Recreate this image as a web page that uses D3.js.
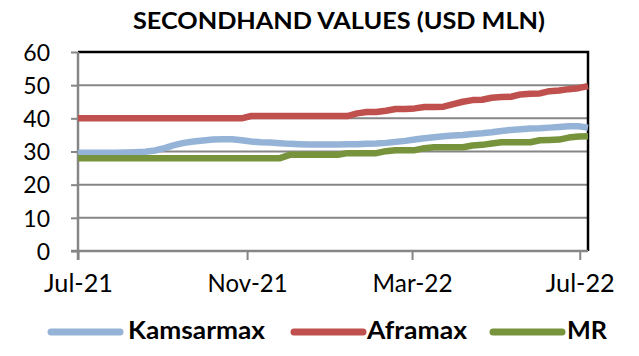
<!DOCTYPE html>
<html><head><meta charset="utf-8">
<script src="https://cdn.jsdelivr.net/npm/d3@7"></script>
<style>
html,body{margin:0;padding:0;background:#fff;}
svg{display:block;}
text{font-family:Lato,"Open Sans",sans-serif;fill:#000;}
</style></head>
<body>
<script>
// ---- data ----
const startDate = "2021-07-01";          // first weekly observation
const weeksCount = 54;
const kamsarmax = [29.6,29.6,29.6,29.6,29.6,29.7,29.8,29.9,30.3,31.0,31.9,32.6,33.0,33.3,33.6,33.7,33.7,33.4,33.0,32.8,32.7,32.5,32.3,32.2,32.1,32.1,32.1,32.1,32.2,32.2,32.3,32.4,32.6,32.9,33.2,33.6,34.0,34.3,34.6,34.8,35.0,35.3,35.5,35.8,36.2,36.5,36.7,36.9,37.0,37.2,37.4,37.6,37.6,37.2];
const aframax = [40,40,40,40,40,40,40,40,40,40,40,40,40,40,40,40,40,40,40.7,40.7,40.7,40.7,40.7,40.7,40.7,40.7,40.7,40.7,40.7,41.5,41.9,41.9,42.3,42.8,42.8,43.0,43.4,43.4,43.5,44.3,45.0,45.5,45.6,46.2,46.4,46.5,47.2,47.4,47.5,48.2,48.4,48.8,49.1,49.7];
const mr = [28,28,28,28,28,28,28,28,28,28,28,28,28,28,28,28,28,28,28,28,28,28,29.0,29.0,29.0,29.0,29.0,29.0,29.5,29.5,29.5,29.5,30.1,30.4,30.4,30.4,31.0,31.3,31.3,31.3,31.3,31.8,32.0,32.4,32.8,32.8,32.8,32.8,33.4,33.5,33.6,34.2,34.5,34.6];
const seriesNames = ["Kamsarmax","Aframax","MR"];
const seriesColors = ["#95b3d7","#c0504d","#77933c"];
const yTicks = [0,10,20,30,40,50,60];
const xTickDates = ["2021-07-01","2021-11-01","2022-03-01","2022-07-01"];
const xTickLabels = ["Jul-21","Nov-21","Mar-22","Jul-22"];
const title = "SECONDHAND VALUES (USD MLN)";

// ---- build ----
const W = 639, H = 356;
const parse = d3.utcParse("%Y-%m-%d");
const t0 = parse(startDate);
const dates = d3.range(weeksCount).map(i => d3.utcDay.offset(t0, 7*i));
const series = [kamsarmax, aframax, mr];

const svg = d3.select("body").append("svg").attr("width", W).attr("height", H);

const x = d3.scaleUtc().domain([t0, parse("2022-07-07")]).range([78, 588]);
const y = d3.scaleLinear().domain([0, 60]).range([251, 52]);

// title
svg.append("text").attr("x", 133).attr("y", 29)
  .attr("textLength", 412).attr("lengthAdjust","spacingAndGlyphs")
  .style("font-size","23.5px").style("font-weight","bold").text(title);

// gridlines
svg.append("g").selectAll("line").data(yTicks.filter(d => d > 0 && d < 60)).join("line")
  .attr("x1", x.range()[0]).attr("x2", x.range()[1])
  .attr("y1", d => y(d)).attr("y2", d => y(d))
  .attr("stroke", "#868686").attr("stroke-width", 2);

// plot border (top, right)
svg.append("path")
  .attr("d", `M${x.range()[0]},${y(60)}H${x.range()[1]}V${y(0)}`)
  .attr("fill","none").attr("stroke","#000").attr("stroke-width",2.5);

// y axis
const yAxis = svg.append("g").attr("transform", `translate(${x.range()[0]},0)`)
  .call(d3.axisLeft(y).tickValues(yTicks).tickSize(7).tickPadding(22).tickFormat(d3.format("d")));
yAxis.select(".domain").attr("stroke","#868686").attr("stroke-width",2.5)
  .attr("d", `M0,${y(60)}V${y(0)+9}`);
yAxis.selectAll(".tick line").attr("stroke","#868686").attr("stroke-width",2);
yAxis.selectAll(".tick text").style("font-size","23px").attr("dy","0.36em").attr("x",-28);

// x axis
const xLabelWidths = [69, 80, 80, 69];
const xAxis = svg.append("g").attr("transform", `translate(0,${y(0)})`)
  .call(d3.axisBottom(x).tickValues(xTickDates.map(parse)).tickSize(9).tickPadding(14)
    .tickFormat((d,i) => xTickLabels[i]));
xAxis.select(".domain").attr("stroke","#868686").attr("stroke-width",2.5)
  .attr("d", `M${x.range()[0]-7},0H${x.range()[1]}`);
xAxis.selectAll(".tick line").attr("stroke","#868686").attr("stroke-width",2);
xAxis.selectAll(".tick text").style("font-size","25px")
  .attr("textLength", (d,i) => xLabelWidths[i]).attr("lengthAdjust","spacingAndGlyphs");

// lines
const line = d3.line().x((d,i) => x(dates[i])).y(d => y(d)).curve(d3.curveLinear);
svg.append("g").selectAll("path").data(series).join("path")
  .attr("d", line).attr("fill","none")
  .attr("stroke", (d,i) => seriesColors[i]).attr("stroke-width", 6.5)
  .attr("stroke-linejoin","round");

// legend
const legendItems = [{lx:48, tx:128, w:137}, {lx:291, tx:367, w:100}, {lx:490, tx:567, w:40}];
const lg = svg.append("g").selectAll("g").data(seriesNames).join("g");
lg.append("line")
  .attr("x1", (d,i) => legendItems[i].lx + 3).attr("x2", (d,i) => legendItems[i].lx + 72)
  .attr("y1", 332).attr("y2", 332)
  .attr("stroke", (d,i) => seriesColors[i]).attr("stroke-width", 7).attr("stroke-linecap","round");
lg.append("text").attr("x", (d,i) => legendItems[i].tx).attr("y", 339)
  .attr("textLength", (d,i) => legendItems[i].w).attr("lengthAdjust","spacingAndGlyphs")
  .style("font-size","25.5px").style("font-weight","bold").text(d => d);
</script>
</body></html>
